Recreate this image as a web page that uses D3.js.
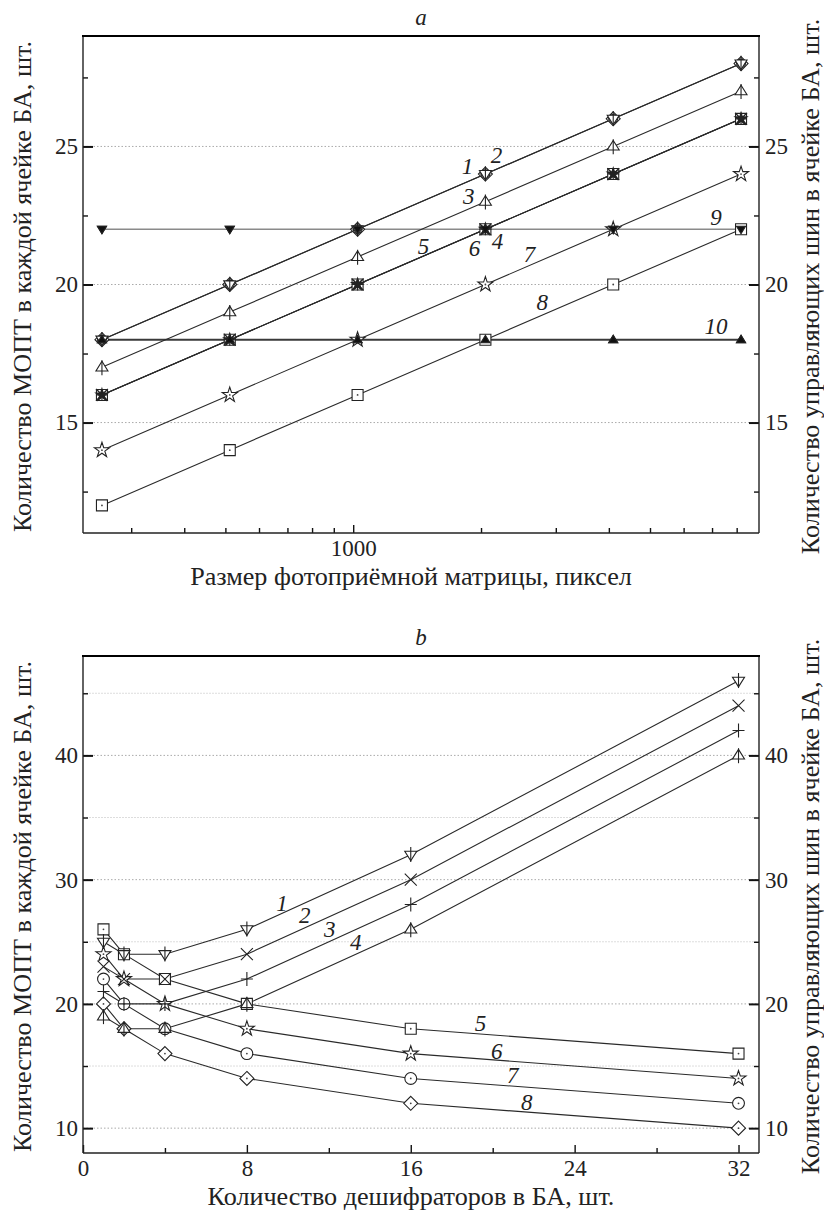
<!DOCTYPE html>
<html lang="ru">
<head>
<meta charset="UTF-8"/>
<title>МОПТ и управляющие шины</title>
<script src="https://d3js.org/d3.v7.min.js"></script>
<style>
  body { margin: 0; background: #fff; }
  svg text { font-family: "Liberation Serif", "Tinos", "Times New Roman", "DejaVu Serif", serif; fill: #222; }
</style>
</head>
<body>
<div id="chart"></div>
<script>
// ---- panel a data: matrix size vs count
var sizesA = [256, 512, 1024, 2048, 4096, 8192];
var a1 = [18, 20, 22, 24, 26, 28];
var a2 = [18, 20, 22, 24, 26, 28];
var a3 = [17, 19, 21, 23, 25, 27];
var a4 = [16, 18, 20, 22, 24, 26];
var a5 = [16, 18, 20, 22, 24, 26];
var a6 = [16, 18, 20, 22, 24, 26];
var a7 = [14, 16, 18, 20, 22, 24];
var a8 = [12, 14, 16, 18, 20, 22];
var a9 = [22, 22, 22, 22, 22, 22];
var a10 = [18, 18, 18, 18, 18, 18];
var labelsA = ["1", "2", "3", "4", "5", "6", "7", "8", "9", "10"];
// where the curve numbers sit, in data units [x, y]
var labelPosA = [[1858, 24.28], [2174, 24.71], [1871, 23.19], [2186, 21.56], [1464, 21.38],
                 [1930, 21.34], [2600, 21.09], [2788, 19.38], [7155, 22.43], [7155, 18.51]];
var yTicksA = [15, 20, 25];
var yMinorA = [12.5, 17.5, 22.5, 27.5];
var xTicksA = [1000];
var xMinorA = [300, 400, 500, 600, 700, 800, 900, 2000, 3000, 4000, 5000, 6000, 7000, 8000];

// ---- panel b data: number of decoders vs count
var decodersB = [1, 2, 4, 8, 16, 32];
var b1 = [25, 24, 24, 26, 32, 46];
var b2 = [23, 22, 22, 24, 30, 44];
var b3 = [21, 20, 20, 22, 28, 42];
var b4 = [19, 18, 18, 20, 26, 40];
var b5 = [26, 24, 22, 20, 18, 16];
var b6 = [24, 22, 20, 18, 16, 14];
var b7 = [22, 20, 18, 16, 14, 12];
var b8 = [20, 18, 16, 14, 12, 10];
var labelsB = ["1", "2", "3", "4", "5", "6", "7", "8"];
var labelPosB = [[9.71, 28.15], [10.83, 27.18], [12.05, 26.06], [13.32, 25.01],
                 [19.41, 18.5], [20.2, 16.25], [20.98, 14.32], [21.66, 12.07]];
var yTicksB = [10, 20, 30, 40];
var yMinorB = [15, 25, 35, 45];
var xTicksB = [0, 8, 16, 24, 32];
var xMinorB = [4, 12, 20, 28];

var yTitleL = "Количество МОПТ в каждой ячейке БА, шт.";
var yTitleR = "Количество управляющих шин в ячейке БА, шт.";

var W = 824, H = 1211;
var left = 83, right = 759;

var svg = d3.select("#chart").append("svg")
    .attr("width", W)
    .attr("height", H);

// font size that makes a text as wide as in the reference
function fitSize(str, width, italic) {
    var t = svg.append("text").attr("font-size", 20).attr("font-style", italic ? "italic" : null).text(str);
    var w = t.node().getComputedTextLength();
    t.remove();
    return w > 0 ? 20 * width / w : 20;
}
var tickFont = fitSize("1000", 46);
var titleFontA = fitSize("Размер фотоприёмной матрицы, пиксел", 442);

// marker drawing
function marker(g, type, x, y) {
    var r = 6;
    var s = g.append("g").attr("transform", "translate(" + x + "," + y + ")");
    function path(d, fill) {
        s.append("path").attr("d", d)
            .attr("fill", fill || "#fff")
            .attr("stroke", "#222")
            .attr("stroke-width", 1.1);
    }
    function dot() {
        s.append("circle").attr("r", 0.9).attr("fill", "#444");
    }
    var tri = "M" + (-r) + "," + (r * 0.6) + "L" + r + "," + (r * 0.6) + "L0," + (-r * 1.0) + "Z";
    var triD = "M" + (-r) + "," + (-r * 0.6) + "L" + r + "," + (-r * 0.6) + "L0," + (r * 1.0) + "Z";
    var sq = "M-5.5,-5.5H5.5V5.5H-5.5Z";
    var dia = "M0,-7L7,0L0,7L-7,0Z";
    var star = d3.symbol(d3.symbolStar, 70)();
    if (type == "triDownBar") { path(triD); path("M0," + (-r * 1.3) + "V" + (r * 1.2)); }
    else if (type == "triUpBar") { path(tri); path("M0," + (-r * 1.2) + "V" + (r * 1.3)); }
    else if (type == "triDownFill") { path("M-4.5,-3L4.5,-3L0,4.5Z", "#111"); }
    else if (type == "triUpFill") { path("M-4.5,3L4.5,3L0,-4.5Z", "#111"); }
    else if (type == "diamondCircle") { path(dia); path(d3.symbol(d3.symbolCircle, 60)()); path("M-5,0H5M0,-5V5"); }
    else if (type == "square") { path(sq); dot(); }
    else if (type == "cross") { path("M-6,-6L6,6M-6,6L6,-6", "none"); }
    else if (type == "asterisk") { path(d3.symbol(d3.symbolStar, 45)(), "#222"); path("M-6,0H6M0,-6V6M-4.5,-4.5L4.5,4.5M-4.5,4.5L4.5,-4.5", "none"); }
    else if (type == "plus") { path("M-6,0H6M0,-7V7", "none"); }
    else if (type == "star") { path(star); dot(); }
    else if (type == "circle") { path(d3.symbol(d3.symbolCircle, 110)()); dot(); }
    else if (type == "diamond") { path(dia); dot(); }
}

function frame(g, top, bottom) {
    g.append("line").attr("x1", left).attr("x2", left).attr("y1", top).attr("y2", bottom)
        .attr("stroke", "#222").attr("stroke-width", 1.4);
    g.append("line").attr("x1", right).attr("x2", right).attr("y1", top).attr("y2", bottom)
        .attr("stroke", "#222").attr("stroke-width", 1.4);
    g.append("line").attr("x1", left).attr("x2", right).attr("y1", bottom).attr("y2", bottom)
        .attr("stroke", "#222").attr("stroke-width", 1.4);
    g.append("line").attr("x1", left - 1).attr("x2", right + 1).attr("y1", top).attr("y2", top)
        .attr("stroke", "#000").attr("stroke-width", 2.2);
}

function styleTicks(a, w) {
    a.select(".domain").remove();
    a.selectAll("line").attr("stroke", "#111").attr("stroke-width", w);
    a.selectAll("text").attr("font-size", tickFont).attr("font-family", null).attr("fill", "#222");
}

function yAxes(g, y, ticks, minor, minorGrid) {
    g.selectAll(".grid").data(ticks).enter().append("line")
        .attr("x1", left).attr("x2", right)
        .attr("y1", d => y(d)).attr("y2", d => y(d))
        .attr("stroke", "#aaa").attr("stroke-width", 1).attr("stroke-dasharray", "1.5,2");
    if (minorGrid) {
        g.selectAll(".gridm").data(minor).enter().append("line")
            .attr("x1", left).attr("x2", right)
            .attr("y1", d => y(d)).attr("y2", d => y(d))
            .attr("stroke", "#ddd").attr("stroke-width", 1).attr("stroke-dasharray", "2,1");
    }
    var yl = d3.axisLeft(y).tickValues(ticks).tickSize(-10).tickPadding(5).tickFormat(d3.format("d"));
    var yr = d3.axisRight(y).tickValues(ticks).tickSize(-10).tickPadding(6).tickFormat(d3.format("d"));
    g.append("g").attr("transform", "translate(" + left + ",0)").call(yl).call(a => styleTicks(a, 2));
    g.append("g").attr("transform", "translate(" + right + ",0)").call(yr).call(a => styleTicks(a, 2));
    var ml = d3.axisLeft(y).tickValues(minor).tickSize(-5).tickFormat("");
    var mr = d3.axisRight(y).tickValues(minor).tickSize(-5).tickFormat("");
    g.append("g").attr("transform", "translate(" + left + ",0)").call(ml).call(a => styleTicks(a, 1.4));
    g.append("g").attr("transform", "translate(" + right + ",0)").call(mr).call(a => styleTicks(a, 1.4));
}

function xAxes(g, x, ticks, minor, bottom) {
    var xa = d3.axisBottom(x).tickValues(ticks).tickSize(-8).tickPadding(7).tickFormat(d3.format("d"));
    g.append("g").attr("transform", "translate(0," + bottom + ")").call(xa).call(a => styleTicks(a, 1.4));
    var xm = d3.axisBottom(x).tickValues(minor).tickSize(-5).tickFormat("");
    g.append("g").attr("transform", "translate(0," + bottom + ")").call(xm).call(a => styleTicks(a, 1.4));
}

function titles(g, top, bottom, xTitle, xTitleY, panel, panelY) {
    var cy = (top + bottom) / 2 + 2;
    g.append("text").attr("transform", "translate(31," + cy + ") rotate(-90)")
        .attr("text-anchor", "middle").attr("font-size", titleFontA).text(yTitleL);
    g.append("text").attr("transform", "translate(819," + cy + ") rotate(-90)")
        .attr("text-anchor", "middle").attr("font-size", titleFontA).text(yTitleR);
    g.append("text").attr("x", 411).attr("y", xTitleY)
        .attr("text-anchor", "middle").attr("font-size", titleFontA).text(xTitle);
    g.append("text").attr("x", 421).attr("y", panelY)
        .attr("text-anchor", "middle").attr("font-size", tickFont).attr("font-style", "italic").text(panel);
}

function series(g, x, y, xs, ys, type, lineColor, lineW) {
    var line = d3.line().x((d, i) => x(xs[i])).y(d => y(d));
    g.append("path").datum(ys).attr("d", line)
        .attr("fill", "none").attr("stroke", lineColor || "#2a2a2a").attr("stroke-width", lineW || 1.1);
    return function() {
        ys.forEach(function(v, i) { marker(g, type, x(xs[i]), y(v)); });
    };
}

function numLabels(g, x, y, labels, pos) {
    g.selectAll(".lbl").data(labels).enter().append("text")
        .attr("x", (d, i) => x(pos[i][0]))
        .attr("y", (d, i) => y(pos[i][1]))
        .attr("dy", "0.35em")
        .attr("text-anchor", "middle")
        .attr("font-size", tickFont)
        .attr("font-style", "italic")
        .text(d => d);
}

// ===== panel a =====
var topA = 36, botA = 533;
var xA = d3.scaleLog().domain([231, 9030]).range([left, right]);
var yA = d3.scaleLinear().domain([11, 29]).range([botA, topA]);
var gA = svg.append("g");
yAxes(gA, yA, yTicksA, yMinorA, false);
var drawA = [
    series(gA, xA, yA, sizesA, a9, "triDownFill", "#8a8a8a", 1.6),
    series(gA, xA, yA, sizesA, a10, "triUpFill", "#3a3a3a", 2),
    series(gA, xA, yA, sizesA, a8, "square"),
    series(gA, xA, yA, sizesA, a7, "star"),
    series(gA, xA, yA, sizesA, a4, "square"),
    series(gA, xA, yA, sizesA, a5, "cross"),
    series(gA, xA, yA, sizesA, a6, "asterisk"),
    series(gA, xA, yA, sizesA, a3, "triUpBar"),
    series(gA, xA, yA, sizesA, a2, "diamondCircle"),
    series(gA, xA, yA, sizesA, a1, "triDownBar")
];
drawA.forEach(f => f());
// filled triangles of 9 and 10 stay visible on top
drawA[0](); drawA[1]();
xAxes(gA, xA, xTicksA, xMinorA, botA);
frame(gA, topA, botA);
numLabels(gA, xA, yA, labelsA, labelPosA);
titles(gA, topA, botA, "Размер фотоприёмной матрицы, пиксел", 585, "a", 25);

// ===== panel b =====
var topB = 656, botB = 1153;
var xB = d3.scaleLinear().domain([0, 33]).range([left, right]);
var yB = d3.scaleLinear().domain([8, 48]).range([botB, topB]);
var gB = svg.append("g");
yAxes(gB, yB, yTicksB, yMinorB, true);
var drawB = [
    series(gB, xB, yB, decodersB, b8, "diamond"),
    series(gB, xB, yB, decodersB, b7, "circle"),
    series(gB, xB, yB, decodersB, b6, "star"),
    series(gB, xB, yB, decodersB, b5, "square"),
    series(gB, xB, yB, decodersB, b4, "triUpBar"),
    series(gB, xB, yB, decodersB, b3, "plus"),
    series(gB, xB, yB, decodersB, b2, "cross"),
    series(gB, xB, yB, decodersB, b1, "triDownBar")
];
drawB.forEach(f => f());
xAxes(gB, xB, xTicksB, xMinorB, botB);
frame(gB, topB, botB);
numLabels(gB, xB, yB, labelsB, labelPosB);
titles(gB, topB, botB, "Количество дешифраторов в БА, шт.", 1205, "b", 645);
</script>
</body>
</html>
